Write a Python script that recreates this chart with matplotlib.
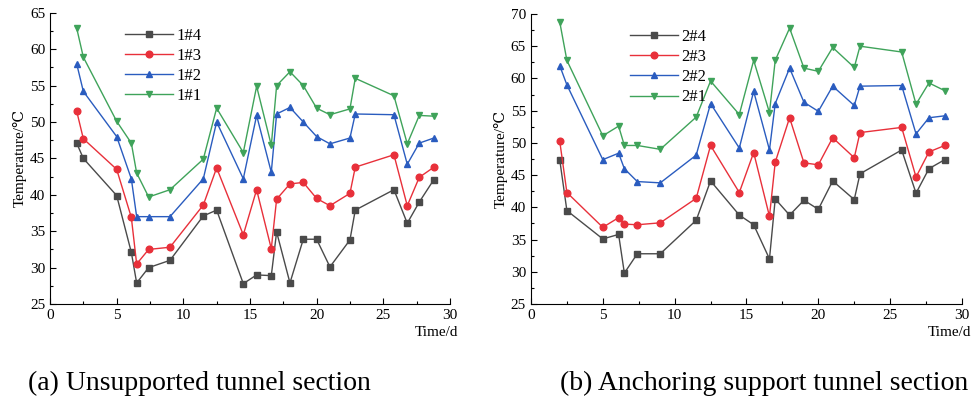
#Importing necessary libraries
import numpy as np
import matplotlib
matplotlib.use("Agg")
import matplotlib.pyplot as plt
from matplotlib.ticker import MultipleLocator, AutoMinorLocator

plt.rcParams['font.family'] = ['Liberation Serif', 'DejaVu Serif']

#Measurement days (same for both sections)
days = [2, 2.5, 5, 6.1, 6.5, 7.4, 9, 11.5, 12.5, 14.5, 15.5, 16.6, 17,
        18, 19, 20, 21, 22.5, 22.9, 25.8, 26.8, 27.7, 28.8]

#Unsupported tunnel section
t1_4 = [47.1, 45.0, 39.9, 32.1, 27.9, 30.0, 31.0, 37.1, 37.9, 27.8, 29.0,
        28.9, 34.9, 27.9, 33.9, 33.9, 30.1, 33.8, 37.9, 40.7, 36.1, 39.0, 42.1]
t1_3 = [51.5, 47.7, 43.5, 36.9, 30.5, 32.5, 32.8, 38.6, 43.7, 34.5, 40.7,
        32.6, 39.4, 41.5, 41.7, 39.5, 38.5, 40.2, 43.8, 45.5, 38.5, 42.4, 43.8]
t1_2 = [58.0, 54.2, 48.0, 42.2, 37.0, 37.0, 37.0, 42.2, 50.0, 42.2, 50.9,
        43.1, 51.1, 52.0, 50.0, 48.0, 47.0, 47.8, 51.1, 51.0, 44.2, 47.1, 47.8]
t1_1 = [62.9, 58.9, 50.1, 47.1, 43.0, 39.7, 40.7, 44.9, 51.9, 45.8, 54.9,
        46.8, 55.0, 56.9, 55.0, 51.9, 51.0, 51.8, 56.0, 53.6, 47.0, 50.9, 50.8]

#Anchoring support tunnel section
t2_4 = [47.4, 39.5, 35.1, 35.8, 29.8, 32.8, 32.8, 38.0, 44.1, 38.8, 37.3,
        32.0, 41.3, 38.8, 41.1, 39.7, 44.1, 41.2, 45.2, 48.9, 42.2, 46.0, 47.4]
t2_3 = [50.3, 42.3, 36.9, 38.4, 37.4, 37.3, 37.6, 41.4, 49.6, 42.3, 48.5,
        38.6, 47.0, 53.9, 46.9, 46.6, 50.8, 47.7, 51.6, 52.4, 44.7, 48.6, 49.6]
t2_2 = [62.0, 59.0, 47.4, 48.4, 46.0, 44.0, 43.8, 48.1, 56.1, 49.2, 58.0,
        48.9, 56.1, 61.6, 56.3, 54.9, 58.8, 55.8, 58.8, 58.9, 51.4, 53.9, 54.2]
t2_1 = [68.8, 62.8, 51.1, 52.6, 49.6, 49.6, 49.0, 54.0, 59.6, 54.4, 62.8,
        54.7, 62.8, 67.8, 61.6, 61.1, 64.8, 61.7, 65.0, 64.1, 56.0, 59.3, 58.1]

colors = ["#4a4a4a", "#e8303a", "#2a5cbf", "#3fa35a"]
markers = ["s", "o", "^", "v"]


#Function to draw one panel
def draw_panel(ax, series, labels, ylim, yticks, leg_x):
    for y, lab, c, m in zip(series, labels, colors, markers):
        ax.plot(days, y, color=c, marker=m, markersize=4.8, linewidth=1.0,
                label=lab)
    ax.set_xlim(0, 30)
    ax.set_ylim(*ylim)
    ax.set_yticks(yticks)
    ax.xaxis.set_major_locator(MultipleLocator(5))
    ax.xaxis.set_minor_locator(AutoMinorLocator(2))
    ax.yaxis.set_minor_locator(AutoMinorLocator(2))
    ax.spines["top"].set_visible(False)
    ax.spines["right"].set_visible(False)
    ax.tick_params(which="both", direction="in", labelsize=11, width=0.8)
    ax.tick_params(which="major", length=4)
    ax.tick_params(which="minor", length=2)
    ax.set_ylabel("Temperature/\u2103", fontsize=11, labelpad=2)
    ax.text(1.02, -0.075, "Time/d", transform=ax.transAxes, ha="right",
            va="top", fontsize=11)
    ax.legend(loc="upper left", bbox_to_anchor=(leg_x, 1.0), frameon=False,
              fontsize=12, handlelength=2.9, handletextpad=0.2,
              labelspacing=0.25)


fig = plt.figure(figsize=(9.73, 3.99), dpi=100)
ax1 = fig.add_axes([0.0514, 0.238, 0.411, 0.73])
ax2 = fig.add_axes([0.5457, 0.238, 0.443, 0.727])

draw_panel(ax1, [t1_4, t1_3, t1_2, t1_1], ["1#4", "1#3", "1#2", "1#1"],
           (25, 65), np.arange(25, 66, 5), 0.15)
draw_panel(ax2, [t2_4, t2_3, t2_2, t2_1], ["2#4", "2#3", "2#2", "2#1"],
           (25, 70), np.arange(25, 71, 5), 0.195)

fig.text(28 / 973, 0.04, "(a) Unsupported tunnel section", ha="left",
         va="center", fontsize=20)
fig.text(968 / 973, 0.04, "(b) Anchoring support tunnel section",
         ha="right", va="center", fontsize=20)

plt.savefig("out.png", dpi=100)
